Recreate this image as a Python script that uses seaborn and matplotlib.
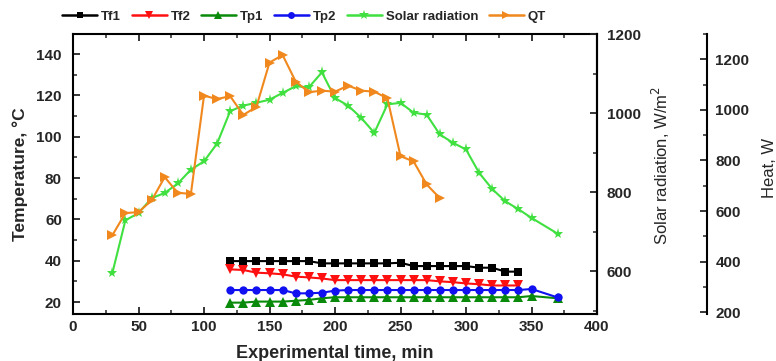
import matplotlib
matplotlib.use("Agg")
import matplotlib.pyplot as plt
import seaborn as sns
import numpy as np
import pandas as pd
from matplotlib.ticker import MultipleLocator
from matplotlib.lines import Line2D

# ---------------- data ----------------
t_temp = [120, 130, 140, 150, 160, 170, 180, 190, 200, 210, 220, 230, 240,
          250, 260, 270, 280, 290, 300, 310, 320, 330, 340]
tf1 = [39.8, 39.8, 39.8, 39.8, 39.8, 39.8, 39.8, 38.7, 38.7, 38.7, 38.7, 38.7, 38.7,
       39.0, 37.4, 37.4, 37.4, 37.4, 37.4, 36.6, 36.6, 34.7, 34.7]
tf2 = [35.8, 35.5, 34.2, 33.9, 33.4, 32.3, 31.9, 31.4, 30.6, 30.6, 30.6, 30.6, 30.6,
       30.6, 30.6, 30.6, 30.0, 29.6, 29.0, 28.6, 28.0, 28.0, 28.0]
t_tp = t_temp + [350, 370]
tp1 = [19.7, 19.7, 20.2, 20.2, 20.2, 20.6, 21.0, 21.8, 22.3, 22.3, 22.3, 22.3, 22.3,
       22.3, 22.3, 22.3, 22.3, 22.3, 22.3, 22.3, 22.3, 22.3, 22.3, 22.9, 21.8]
tp2 = [25.8, 25.8, 25.8, 25.8, 25.8, 24.2, 24.2, 24.5, 25.5, 25.8, 25.8, 25.8, 25.8,
       25.8, 25.8, 25.8, 25.8, 25.8, 25.8, 25.8, 25.8, 25.8, 25.8, 26.3, 22.2]

t_solar = [30, 40, 50, 60, 70, 80, 90, 100, 110, 120, 130, 140, 150, 160, 170, 180,
           190, 200, 210, 220, 230, 240, 250, 260, 270, 280, 290, 300, 310, 320,
           330, 340, 350, 370]
solar = [595, 729, 747, 785, 798, 822, 857, 878, 923, 1005, 1019, 1026, 1034, 1051,
         1068, 1065, 1103, 1038, 1019, 988, 950, 1022, 1026, 1001, 996, 946, 925,
         908, 849, 808, 777, 757, 735, 695]

t_qt = [30, 40, 50, 60, 70, 80, 90, 100, 110, 120, 130, 140, 150, 160, 170, 180,
        190, 200, 210, 220, 230, 240, 250, 260, 270, 280]
qt = [504, 592, 596, 642, 734, 672, 668, 1056, 1043, 1054, 980, 1012, 1187, 1217,
      1112, 1070, 1076, 1072, 1096, 1076, 1072, 1046, 817, 796, 705, 651]

x_ticks = [0, 50, 100, 150, 200, 250, 300, 350, 400]
temp_ticks = [20, 40, 60, 80, 100, 120, 140]
solar_ticks = [600, 800, 1000, 1200]
heat_ticks = [200, 400, 600, 800, 1000, 1200]

# ---------------- style ----------------
sns.set_theme(style="ticks")
plt.rcParams['font.family'] = ['Liberation Sans', 'DejaVu Sans']
plt.rcParams['axes.linewidth'] = 1.5

fig = plt.figure(figsize=(7.76, 3.61), dpi=100)
ax = fig.add_axes([73/776, 1-314/361, (597-73)/776, (314-34)/361])
ax2 = ax.twinx()
ax3 = ax.twinx()

c_tf1, c_tf2, c_tp1, c_tp2 = "#000000", "#FF1010", "#0A8A0A", "#1010F0"
c_sol, c_qt = "#3FE03F", "#F0881E"

kw = dict(estimator=None, sort=False, linewidth=1.5, markeredgewidth=0)
sns.lineplot(x=t_temp, y=tf1, ax=ax, color=c_tf1, marker='s', markersize=6, **kw)
sns.lineplot(x=t_temp, y=tf2, ax=ax, color=c_tf2, marker='v', markersize=7, **kw)
sns.lineplot(x=t_tp, y=tp1, ax=ax, color=c_tp1, marker='^', markersize=7, **kw)
sns.lineplot(x=t_tp, y=tp2, ax=ax, color=c_tp2, marker='o', markersize=6, **kw)
sns.lineplot(x=t_solar, y=solar, ax=ax2, color=c_sol, marker='*', markersize=8, **kw)
sns.lineplot(x=t_qt, y=qt, ax=ax3, color=c_qt, marker='>', markersize=7, **kw)

# axes limits / ticks
ax.set_xlim(0, 400)
ax.set_ylim(14.2, 149.7)
ax.set_xticks(x_ticks)
ax.xaxis.set_minor_locator(MultipleLocator(25))
ax.set_yticks(temp_ticks)
ax.yaxis.set_minor_locator(MultipleLocator(10))
ax.tick_params(axis='x', which='both', direction='in', top=True, bottom=True, pad=4)
ax.tick_params(axis='y', which='both', direction='in', left=True, right=False, pad=8)
ax.tick_params(which='major', length=5, width=1.3, labelsize=11)
ax.tick_params(which='minor', length=3, width=1.1)

ax2.set_ylim(492, 1200)
ax2.set_yticks(solar_ticks)
ax2.yaxis.set_minor_locator(MultipleLocator(100))
ax2.tick_params(axis='y', which='both', direction='in', right=True, pad=7)
ax2.tick_params(which='major', length=5, width=1.3, labelsize=11)
ax2.tick_params(which='minor', length=3, width=1.1)

ax3.set_ylim(193, 1300)
ax3.spines['right'].set_position(('axes', (707-73)/524))
for s in ['top', 'left', 'bottom']:
    ax3.spines[s].set_visible(False)
ax2.spines['top'].set_visible(False)
ax2.spines['left'].set_visible(False)
ax2.spines['bottom'].set_visible(False)
ax3.set_yticks(heat_ticks)
ax3.yaxis.set_minor_locator(MultipleLocator(100))
ax3.tick_params(axis='y', which='both', direction='in', right=True, pad=6)
ax3.tick_params(which='major', length=5, width=1.3, labelsize=11)
ax3.tick_params(which='minor', length=3, width=1.1)

for a in (ax, ax2, ax3):
    for lab in a.get_xticklabels() + a.get_yticklabels():
        lab.set_fontweight('bold')
    for sp in a.spines.values():
        sp.set_linewidth(1.5)
        sp.set_color('black')

ax.set_xlabel("Experimental time, min", fontsize=13, fontweight='bold')
ax.xaxis.set_label_coords(0.5, -0.11)
ax.set_ylabel("Temperature, °C", fontsize=12.5, fontweight='bold')
ax.yaxis.set_label_coords(-0.085, 0.5)
ax2.set_ylabel("Solar radiation, W/m$^2$", fontsize=12)
ax2.yaxis.set_label_coords(1.101, 0.53)
ax3.set_ylabel("Heat, W", fontsize=12)
ax3.yaxis.set_label_coords(1.314, 0.52)

# legend
handles = [
    Line2D([], [], color=c_tf1, marker='s', markersize=5, lw=1.8, mew=0),
    Line2D([], [], color=c_tf2, marker='v', markersize=6, lw=1.8, mew=0),
    Line2D([], [], color=c_tp1, marker='^', markersize=6, lw=1.8, mew=0),
    Line2D([], [], color=c_tp2, marker='o', markersize=5, lw=1.8, mew=0),
    Line2D([], [], color=c_sol, marker='*', markersize=7, lw=1.8, mew=0),
    Line2D([], [], color=c_qt, marker='>', markersize=6, lw=1.8, mew=0),
]
labels = ["Tf1", "Tf2", "Tp1", "Tp2", "Solar radiation", "QT"]
fig.legend(handles, labels, loc='center', bbox_to_anchor=(304/776, 1-17/361),
           ncol=6, frameon=False, handlelength=2.65, columnspacing=0.8,
           handletextpad=0.3, prop={'size': 9.5, 'weight': 'bold'})

fig.savefig("out.png", dpi=100)
